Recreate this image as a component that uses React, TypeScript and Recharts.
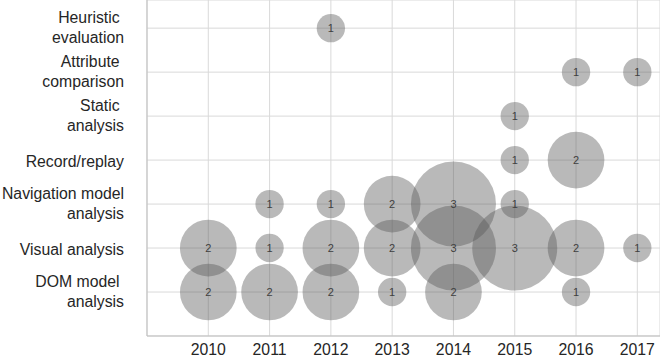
import React from 'react';
import { ScatterChart, Scatter, XAxis, YAxis, ZAxis, CartesianGrid, LabelList } from 'recharts';

// y categories, bottom to top (value 1..7); "\n" marks the line break, trailing space kept as in the source
const categories = [
  'DOM model \nanalysis',
  'Visual analysis',
  'Navigation model\nanalysis',
  'Record/replay',
  'Static \nanalysis',
  'Attribute \ncomparison',
  'Heuristic \nevaluation',
];

const years = [2010, 2011, 2012, 2013, 2014, 2015, 2016, 2017];

// number of papers per year, 0 = no bubble
const domModel = [2, 2, 2, 1, 2, 0, 1, 0];
const visual = [2, 1, 2, 2, 3, 3, 2, 1];
const navigation = [0, 1, 1, 2, 3, 1, 0, 0];
const recordReplay = [0, 0, 0, 0, 0, 1, 2, 0];
const staticAnalysis = [0, 0, 0, 0, 0, 1, 0, 0];
const attribute = [0, 0, 0, 0, 0, 0, 1, 1];
const heuristic = [0, 0, 1, 0, 0, 0, 0, 0];

const seriesByCategory = [domModel, visual, navigation, recordReplay, staticAnalysis, attribute, heuristic];

// bubble width grows with the count, so the z axis gets the squared count (area)
const points = seriesByCategory.flatMap((counts, ci) =>
  counts
    .map((n, yi) => ({ year: years[yi], cat: ci + 1, n, area: n * n }))
    .filter((p) => p.n > 0)
);

const FONT = '"Liberation Sans", Arial, sans-serif';
const TICK_SIZE = 15.8;

const CategoryTick = ({ x, y, payload }: any) => {
  const label = categories[payload.value - 1] ?? '';
  const lines = label.split('\n');
  const step = 20;
  return (
    <g>
      {lines.map((line: string, i: number) => {
        const center = y + (i - (lines.length - 1) / 2) * step + (lines.length > 1 ? -1 : 1.5);
        return (
          <text
            key={i}
            x={x}
            y={center + 5.6}
            textAnchor="end"
            fontSize={TICK_SIZE}
            fontFamily={FONT}
            fill="#262626"
            style={{ whiteSpace: 'pre' }}
          >
            {line}
          </text>
        );
      })}
    </g>
  );
};

export default function App() {
  return (
    <div style={{ position: 'absolute', left: 0, top: 0, fontFamily: FONT }}>
      <ScatterChart width={660} height={360} margin={{ top: 0, right: 0, bottom: 0, left: 0 }}>
        <CartesianGrid stroke="#d9d9d9" />
        <XAxis
          type="number"
          dataKey="year"
          domain={[2009, 2017.37]}
          ticks={years}
          allowDataOverflow
          height={24}
          tickLine={false}
          axisLine={{ stroke: '#bfbfbf' }}
          tick={{ fontSize: TICK_SIZE, fill: '#262626', fontFamily: FONT }}
        />
        <YAxis
          type="number"
          dataKey="cat"
          domain={[0, 7.64]}
          ticks={[1, 2, 3, 4, 5, 6, 7]}
          allowDataOverflow
          width={147}
          tickLine={false}
          tickSize={0}
          tickMargin={23}
          axisLine={{ stroke: '#bfbfbf' }}
          tick={<CategoryTick />}
        />
        <ZAxis type="number" dataKey="area" domain={[0, 9]} range={[0, 5675]} />
        <Scatter data={points} fill="rgba(87,87,87,0.42)" isAnimationActive={false}>
          <LabelList dataKey="n" position="center" fill="#404040" fontSize={11} fontFamily={FONT} />
        </Scatter>
      </ScatterChart>
    </div>
  );
}
